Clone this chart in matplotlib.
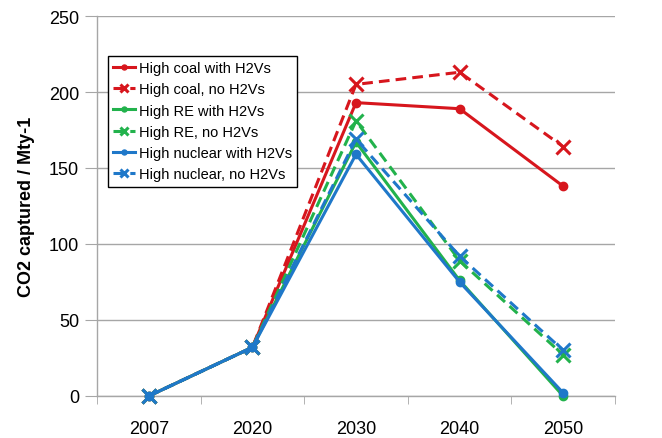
import matplotlib
matplotlib.use("Agg")
import matplotlib.pyplot as plt
import numpy as np

# Scenario results, Mt CO2 captured per year
YEARS = ["2007", "2020", "2030", "2040", "2050"]
COAL_H2V = [0, 32, 193, 189, 138]
COAL_NO_H2V = [0, 32, 205, 213, 164]
RE_H2V = [0, 32, 167, 76, 0]
RE_NO_H2V = [0, 32, 181, 89, 27]
NUC_H2V = [0, 32, 159, 75, 2]
NUC_NO_H2V = [0, 32, 169, 92, 30]

RED = "#D7161D"
GREEN = "#22B24C"
BLUE = "#1F78C9"
GRID = "#A6A6A6"

plt.rcParams["font.family"] = ["Liberation Sans", "DejaVu Sans"]

fig = plt.figure(figsize=(6.62, 4.39), dpi=100)
ax = fig.add_axes([97 / 662, 1 - 397 / 439, 518 / 662, 380 / 439])

x = np.arange(len(YEARS))
series = [
    (COAL_H2V, RED, "-", "o", "High coal with H2Vs"),
    (COAL_NO_H2V, RED, "--", "x", "High coal, no H2Vs"),
    (RE_H2V, GREEN, "-", "o", "High RE with H2Vs"),
    (RE_NO_H2V, GREEN, "--", "x", "High RE, no H2Vs"),
    (NUC_H2V, BLUE, "-", "o", "High nuclear with H2Vs"),
    (NUC_NO_H2V, BLUE, "--", "x", "High nuclear, no H2Vs"),
]
for values, color, ls, marker, label in series:
    ax.plot(
        x, values, color=color, linestyle=ls, linewidth=2.2,
        marker=marker, markersize=6 if marker == "o" else 10,
        markeredgewidth=2.2 if marker == "x" else 1,
        dashes=(3.5, 2) if ls == "--" else (None, None),
        label=label, clip_on=False, zorder=3,
    )

ax.set_xlim(-0.5, len(YEARS) - 0.5)
ax.set_ylim(0, 250)
ax.set_yticks(range(0, 251, 50))
ax.set_xticks(x)
ax.set_xticklabels(YEARS)
ax.set_xticks(np.arange(-0.5, len(YEARS)), minor=True)
ax.tick_params(axis="x", which="major", length=0, pad=17, labelsize=13)
ax.tick_params(axis="x", which="minor", length=6, color=GRID, direction="out")
ax.tick_params(axis="y", length=9, color=GRID, direction="out", pad=4, labelsize=13)

ax.grid(axis="y", color=GRID, linewidth=1)
ax.set_axisbelow(True)
for side in ("top", "right"):
    ax.spines[side].set_visible(False)
for side in ("left", "bottom"):
    ax.spines[side].set_color(GRID)
    ax.spines[side].set_linewidth(1)

ax.set_ylabel("CO2 captured / Mty-1", fontsize=13, fontweight="bold", labelpad=10)

leg = ax.legend(
    loc="upper left", bbox_to_anchor=(0.021, 0.895), fontsize=10.5,
    handlelength=1.5, handletextpad=0.25, labelspacing=0.5,
    borderpad=0.35, borderaxespad=0, fancybox=False, framealpha=1,
    markerscale=0.6,
)
leg.get_frame().set_edgecolor("#000000")
leg.get_frame().set_linewidth(1)

fig.savefig("out.png", dpi=100)
